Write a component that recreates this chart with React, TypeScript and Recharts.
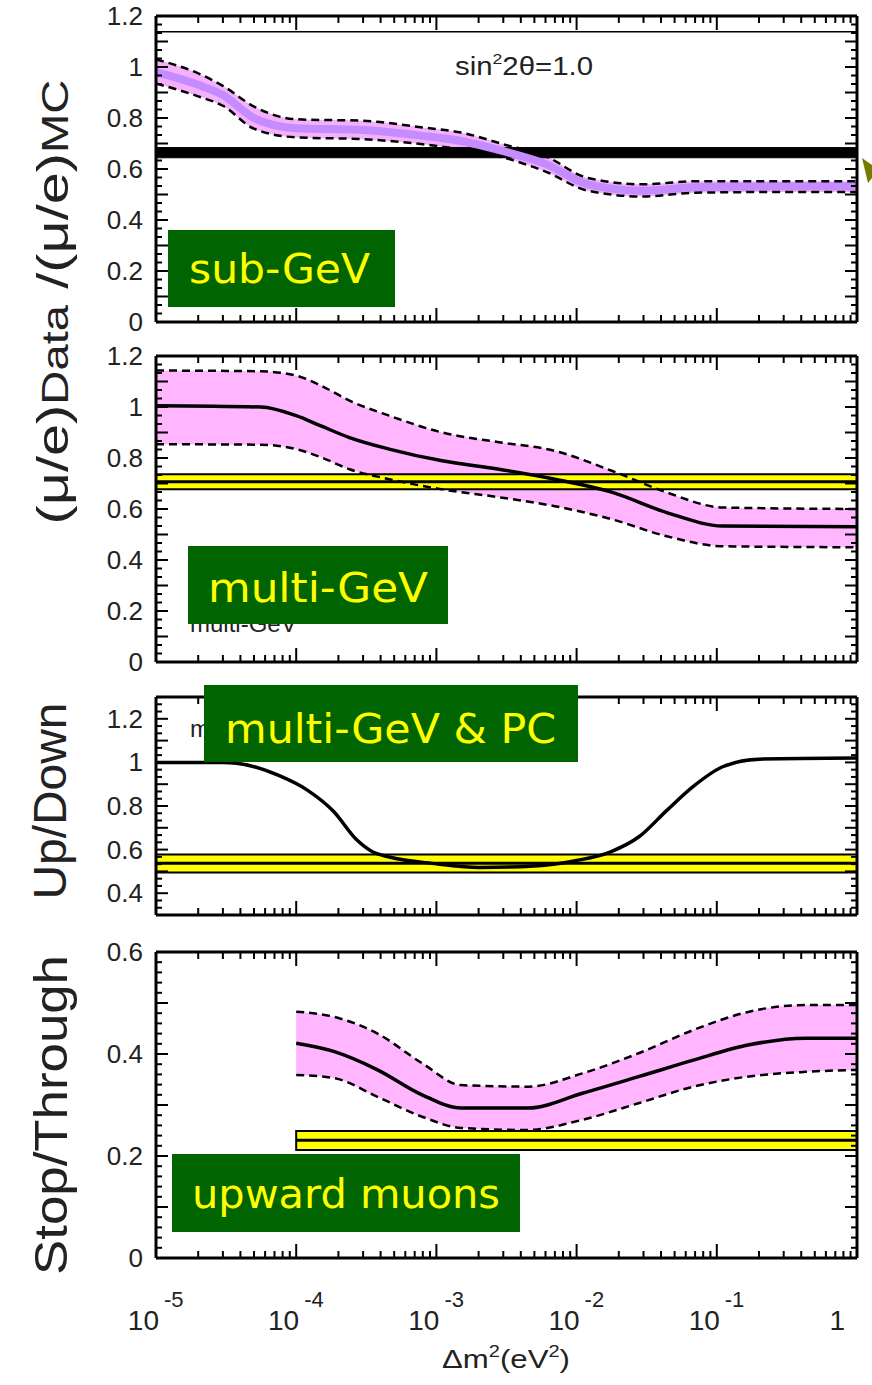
import React from 'react';
import { ComposedChart, Area, Line, XAxis, YAxis, ReferenceArea, ReferenceLine } from 'recharts';

// x axis: delta m^2 (eV^2), log scale
const decades = [1e-5, 1e-4, 1e-3, 1e-2, 1e-1, 1];
const minorMults = [2, 3, 4, 5, 6, 7, 8, 9];

// sub-GeV mu/e double ratio (MC expectation band)
const subX = [1e-5, 2e-5, 3e-5, 5e-5, 1e-4, 3e-4, 8e-4, 1.5e-3, 3e-3, 6e-3, 1.2e-2, 3e-2, 7e-2, 0.3, 1];
const subMid = [0.98, 0.93, 0.89, 0.8, 0.76, 0.753, 0.73, 0.71, 0.67, 0.62, 0.54, 0.515, 0.528, 0.532, 0.532];
const subHi = [1.03, 0.975, 0.926, 0.845, 0.795, 0.789, 0.763, 0.743, 0.697, 0.65, 0.565, 0.54, 0.552, 0.552, 0.552];
const subLo = [0.935, 0.885, 0.848, 0.758, 0.724, 0.717, 0.697, 0.677, 0.645, 0.59, 0.515, 0.492, 0.507, 0.51, 0.51];
const subDataBand = [0.644, 0.684];
const subTopLine = 1.138;

// multi-GeV
const multiX = [1e-5, 5.6e-5, 1e-4, 1.5e-4, 2.4e-4, 4.6e-4, 1.1e-3, 2.8e-3, 7e-3, 1.8e-2, 4.4e-2, 0.11, 1];
const multiMid = [1.005, 1.0, 0.966, 0.926, 0.88, 0.835, 0.789, 0.756, 0.717, 0.665, 0.586, 0.533, 0.53];
const multiHi = [1.143, 1.14, 1.123, 1.084, 1.025, 0.966, 0.9, 0.862, 0.828, 0.749, 0.665, 0.606, 0.6];
const multiLo = [0.854, 0.852, 0.835, 0.803, 0.756, 0.717, 0.677, 0.646, 0.611, 0.559, 0.493, 0.454, 0.45];
const multiDataBand = [0.677, 0.707, 0.736];

// up/down, multi-GeV & PC
const udX = [1e-5, 3e-5, 4.7e-5, 7.5e-5, 1.2e-4, 1.85e-4, 2.7e-4, 3.5e-4, 4.6e-4, 1e-3, 2e-3, 5e-3, 1e-2, 1.75e-2, 2.8e-2, 4.4e-2, 6.8e-2, 0.11, 0.2, 1];
const udVal = [1.0, 1.0, 0.985, 0.94, 0.873, 0.775, 0.645, 0.59, 0.566, 0.535, 0.518, 0.525, 0.55, 0.59, 0.66, 0.78, 0.89, 0.98, 1.015, 1.02];
const udDataBand = [0.495, 0.537, 0.578];

// stop/through, upward muons
const stX = [1e-4, 1.85e-4, 3.8e-4, 7.9e-4, 1.5e-3, 4.5e-3, 1.1e-2, 2.8e-2, 6.8e-2, 0.17, 0.43, 1];
const stMid = [0.421, 0.405, 0.369, 0.32, 0.294, 0.294, 0.323, 0.356, 0.388, 0.418, 0.431, 0.431];
const stHi = [0.483, 0.473, 0.44, 0.382, 0.339, 0.336, 0.362, 0.402, 0.447, 0.483, 0.496, 0.496];
const stLo = [0.359, 0.353, 0.316, 0.277, 0.255, 0.251, 0.271, 0.304, 0.336, 0.356, 0.365, 0.369];
const stDataBand = [0.212, 0.231, 0.249];

const xTicks = [...decades, ...decades.slice(0, -1).flatMap((d) => minorMults.map((m) => m * d))].sort((a, b) => a - b);
const range = (a: number, b: number, n: number) => Array.from({ length: b - a + 1 }, (_, i) => (a + i) / n);

const tickFont = '"Liberation Sans", Arial, Helvetica, sans-serif';
const frame = { stroke: '#000', strokeWidth: 3 };
const pink = '#ffb6ff';

const rows = (xs: number[], mid: number[], hi?: number[], lo?: number[]) =>
  xs.map((x, i) => ({ x, mid: mid[i], hi: hi ? hi[i] : undefined, lo: lo ? lo[i] : undefined, band: hi && lo ? [lo[i], hi[i]] : undefined }));

const isDecade = (v: number) => Math.abs(Math.log10(v) - Math.round(Math.log10(v))) < 1e-6;

const XTick = (props: any) => {
  const { x, y, payload, side, showLabel } = props;
  const v = payload.value;
  const major = isDecade(v);
  const len = major ? 14 : 7;
  const dir = side === 'top' ? 1 : -1;
  const exp = Math.round(Math.log10(v));
  return (
    <g>
      <line x1={x} x2={x} y1={y} y2={y + dir * len} stroke="#000" strokeWidth={2} />
      {showLabel && major && exp === 0 && (
        <text x={x - 12} y={y + 72} textAnchor="end" fontSize={28} fontFamily={tickFont} fill="#222">1</text>
      )}
      {showLabel && major && exp !== 0 && (
        <g fontFamily={tickFont} fill="#222">
          <text x={x + 3} y={y + 72} textAnchor="end" fontSize={28}>10</text>
          <text x={x + 8} y={y + 49} fontSize={22}>{exp}</text>
        </g>
      )}
    </g>
  );
};

const YTick = (props: any) => {
  const { x, y, payload, side, showLabel } = props;
  const v = payload.value;
  const major = Math.abs(v * 10 - Math.round(v * 10)) < 1e-6;
  const labelled = Math.abs(v * 5 - Math.round(v * 5)) < 1e-6;
  const len = major ? 12 : 6;
  const dir = side === 'left' ? 1 : -1;
  const txt = Math.abs(v - Math.round(v)) < 1e-6 ? String(Math.round(v)) : v.toFixed(1);
  return (
    <g>
      <line x1={x} x2={x + dir * len} y1={y} y2={y} stroke="#000" strokeWidth={2} />
      {showLabel && labelled && (
        <text x={x - 13} y={y + 9} textAnchor="end" fontSize={26} fontFamily={tickFont} fill="#222">{txt}</text>
      )}
    </g>
  );
};

function Panel({ top, height, mTop, mBottom, yDomain, yTicks, data, xLabels, children }: any) {
  return (
    <div style={{ position: 'absolute', left: 0, top, width: 872, height }}>
      <ComposedChart width={872} height={height} data={data} margin={{ top: mTop - 1, right: 14, bottom: mBottom - 1, left: 155 }}>
        <XAxis dataKey="x" type="number" scale="log" domain={[1e-5, 1]} ticks={xTicks} interval={0} allowDataOverflow
          height={1} tickLine={false} tickSize={0} tickMargin={0} axisLine={frame}
          tick={(p: any) => <XTick {...p} side="bottom" showLabel={xLabels} />} />
        <XAxis xAxisId="top" orientation="top" dataKey="x" type="number" scale="log" domain={[1e-5, 1]} ticks={xTicks} interval={0}
          allowDataOverflow height={1} tickLine={false} tickSize={0} tickMargin={0} axisLine={frame}
          tick={(p: any) => <XTick {...p} side="top" />} />
        <YAxis type="number" domain={yDomain} ticks={yTicks} interval={0} allowDataOverflow width={1}
          tickLine={false} tickSize={0} tickMargin={0} axisLine={frame}
          tick={(p: any) => <YTick {...p} side="left" showLabel />} />
        <YAxis yAxisId="right" orientation="right" type="number" domain={yDomain} ticks={yTicks} interval={0} allowDataOverflow width={1}
          tickLine={false} tickSize={0} tickMargin={0} axisLine={frame}
          tick={(p: any) => <YTick {...p} side="right" />} />
        {children}
      </ComposedChart>
    </div>
  );
}

const dashed = { stroke: '#000', strokeWidth: 2.5, strokeDasharray: '8 5', dot: false, isAnimationActive: false, type: 'monotone' as const };

export default function App() {
  const subRows = rows(subX, subMid, subHi, subLo);
  const multiRows = rows(multiX, multiMid, multiHi, multiLo);
  const udRows = rows(udX, udVal);
  const stRows = rows(stX, stMid, stHi, stLo);
  const ratioTicks = range(0, 36, 30);
  const yellowText = { fontFamily: '"Comic Sans MS", "DejaVu Sans", sans-serif', fontSize: 41, fill: '#ffff00' };
  const green = '#006400';

  return (
    <div style={{ position: 'absolute', left: 0, top: 0, width: 872, height: 1385, background: '#fff' }}>
      <Panel top={0} height={340} mTop={16} mBottom={18} yDomain={[0, 1.2]} yTicks={ratioTicks} data={subRows}>
        <Area dataKey="band" type="monotone" fill="#f4b0fa" fillOpacity={1} stroke="none" isAnimationActive={false} />
        <Line dataKey="mid" type="monotone" stroke="#c58cff" strokeWidth={8} dot={false} isAnimationActive={false} />
        <Line dataKey="hi" {...dashed} />
        <Line dataKey="lo" {...dashed} />
        <ReferenceLine y={subTopLine} stroke="#000" strokeWidth={1.5} />
        <ReferenceArea y1={subDataBand[0]} y2={subDataBand[1]} fill="#000" fillOpacity={1} stroke="#000" strokeWidth={1} />
      </Panel>

      <Panel top={340} height={340} mTop={16} mBottom={18} yDomain={[0, 1.2]} yTicks={ratioTicks} data={multiRows}>
        <Area dataKey="band" type="monotone" fill={pink} fillOpacity={1} stroke="none" isAnimationActive={false} />
        <Line dataKey="mid" type="monotone" stroke="#000" strokeWidth={3.5} dot={false} isAnimationActive={false} />
        <Line dataKey="hi" {...dashed} />
        <Line dataKey="lo" {...dashed} />
        <ReferenceArea y1={multiDataBand[0]} y2={multiDataBand[2]} fill="#ffff00" fillOpacity={1} stroke="#000" strokeWidth={2} />
        <ReferenceLine y={multiDataBand[1]} stroke="#000" strokeWidth={3} />
      </Panel>

      <Panel top={680} height={250} mTop={17} mBottom={15} yDomain={[0.3, 1.3]} yTicks={range(9, 39, 30)} data={udRows}>
        <ReferenceArea y1={udDataBand[0]} y2={udDataBand[2]} fill="#ffff00" fillOpacity={1} stroke="#000" strokeWidth={2} />
        <ReferenceLine y={udDataBand[1]} stroke="#000" strokeWidth={3} />
        <Line dataKey="mid" type="monotone" stroke="#000" strokeWidth={3.5} dot={false} isAnimationActive={false} />
      </Panel>

      <Panel top={930} height={455} mTop={22} mBottom={127} yDomain={[0, 0.6]} yTicks={range(0, 30, 50)} data={stRows} xLabels>
        <Area dataKey="band" type="monotone" fill={pink} fillOpacity={1} stroke="none" isAnimationActive={false} />
        <Line dataKey="mid" type="monotone" stroke="#000" strokeWidth={3.5} dot={false} isAnimationActive={false} />
        <Line dataKey="hi" {...dashed} />
        <Line dataKey="lo" {...dashed} />
        <ReferenceArea x1={1e-4} x2={1} y1={stDataBand[0]} y2={stDataBand[2]} fill="#ffff00" fillOpacity={1} stroke="#000" strokeWidth={2} />
        <ReferenceLine segment={[{ x: 1e-4, y: stDataBand[1] }, { x: 1, y: stDataBand[1] }]} stroke="#000" strokeWidth={3} />
      </Panel>

      <svg width={872} height={1385} style={{ position: 'absolute', left: 0, top: 0, pointerEvents: 'none' }}>
        {/* axis titles */}
        <text transform="translate(68,302) rotate(-90)" textAnchor="middle" fontFamily={tickFont} fill="#222" fontSize={44} textLength={445} lengthAdjust="spacingAndGlyphs">
          <tspan>(μ/e)</tspan><tspan fontSize={36}>Data</tspan><tspan> /(μ/e)</tspan><tspan fontSize={36}>MC</tspan>
        </text>
        <text transform="translate(66,801) rotate(-90)" textAnchor="middle" fontFamily={tickFont} fill="#222" fontSize={46} textLength={197} lengthAdjust="spacingAndGlyphs">Up/Down</text>
        <text transform="translate(67,1115) rotate(-90)" textAnchor="middle" fontFamily={tickFont} fill="#222" fontSize={46} textLength={320} lengthAdjust="spacingAndGlyphs">Stop/Through</text>
        <text x={506} y={1368} textAnchor="middle" fontFamily={tickFont} fill="#222" fontSize={25} textLength={128} lengthAdjust="spacingAndGlyphs">
          <tspan>Δm</tspan><tspan dy={-11} fontSize={16}>2</tspan><tspan dy={11}>(eV</tspan><tspan dy={-11} fontSize={16}>2</tspan><tspan dy={11}>)</tspan>
        </text>
        <text x={455} y={75} fontFamily={tickFont} fill="#222" fontSize={25} textLength={138} lengthAdjust="spacingAndGlyphs">
          <tspan>sin</tspan><tspan dy={-11} fontSize={15}>2</tspan><tspan dy={11}>2θ=1.0</tspan>
        </text>

        {/* original small labels, mostly hidden under the boxes */}
        <text x={190} y={632} fontFamily={tickFont} fill="#222" fontSize={24}>multi-GeV</text>
        <text x={190} y={737} fontFamily={tickFont} fill="#222" fontSize={24}>multi-GeV &amp; PC</text>

        {/* green sample boxes */}
        <rect x={168} y={230} width={227} height={77} fill={green} />
        <text x={189} y={283} {...yellowText} textLength={181} lengthAdjust="spacingAndGlyphs">sub-GeV</text>
        <rect x={188} y={546} width={260} height={78} fill={green} />
        <text x={208} y={602} {...yellowText} textLength={220} lengthAdjust="spacingAndGlyphs">multi-GeV</text>
        <rect x={204} y={685} width={374} height={77} fill={green} />
        <text x={225} y={743} {...yellowText} textLength={331} lengthAdjust="spacingAndGlyphs">multi-GeV &amp; PC</text>
        <rect x={172} y={1154} width={348} height={78} fill={green} />
        <text x={192} y={1208} {...yellowText} textLength={308} lengthAdjust="spacingAndGlyphs">upward muons</text>

        {/* arrow tip at right edge */}
        <polygon points="862,158 872,165 872,178 868,183" fill="#7a7a00" />
      </svg>
    </div>
  );
}
